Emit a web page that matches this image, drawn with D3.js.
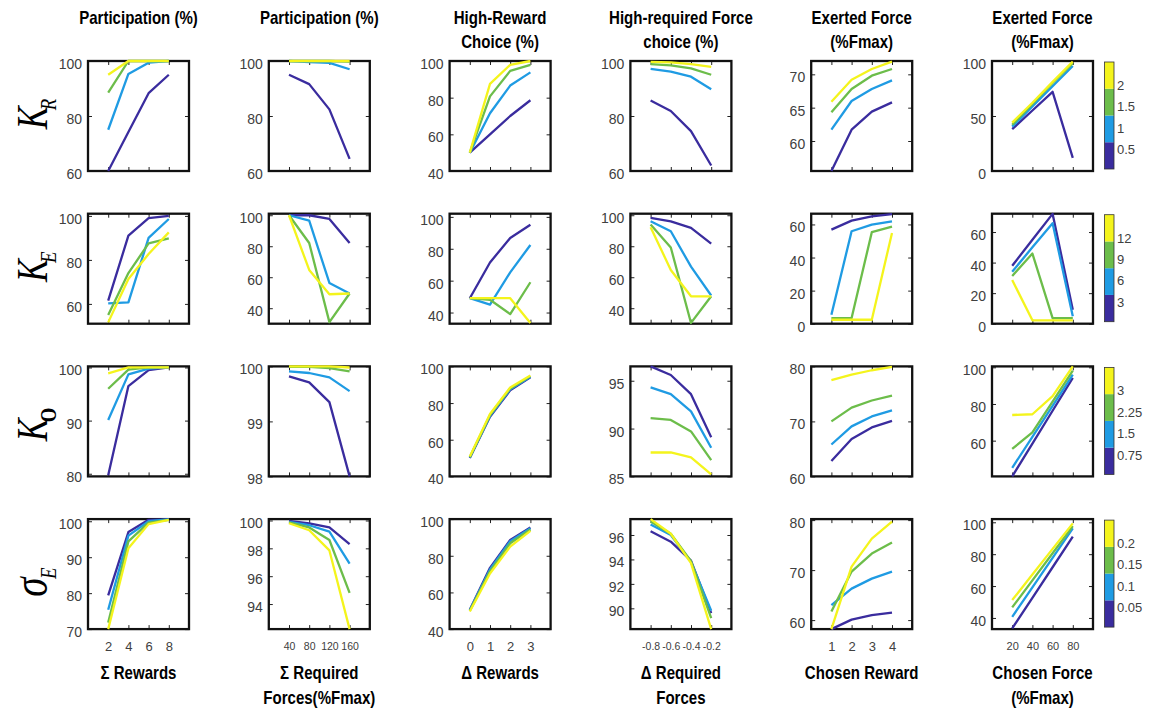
<!DOCTYPE html>
<html>
<head>
<meta charset="utf-8">
<script src="https://cdn.jsdelivr.net/npm/d3@7"></script>
<style>
  body { margin: 0; background: #fff; }
  svg { display: block; }
</style>
</head>
<body>
<svg id="chart" width="1152" height="708"></svg>
<script>
// ---- data ----
const xTicks = [[2, 4, 6, 8], [40, 80, 120, 160], [0, 1, 2, 3], [-0.8, -0.6, -0.4, -0.2], [1, 2, 3, 4], [20, 40, 60, 80]];
const xDomains = [[0, 10], [0, 200], [-1, 4], [-1, 0], [0, 5], [0, 100]];

const topTitles = [["Participation (%)"], ["Participation (%)"], ["High-Reward", "Choice (%)"],
  ["High-required Force", "choice (%)"], ["Exerted Force", "(%Fmax)"], ["Exerted Force", "(%Fmax)"]];
const bottomTitles = [["Σ Rewards"], ["Σ Required", "Forces(%Fmax)"], ["Δ Rewards"],
  ["Δ Required", "Forces"], ["Chosen Reward"], ["Chosen Force", "(%Fmax)"]];

const rowNames = [["K", "R"], ["K", "E"], ["K", "O"], ["σ", "E"]];
const legendTicks = [[0.5, 1, 1.5, 2], [3, 6, 9, 12], [0.75, 1.5, 2.25, 3], [0.05, 0.1, 0.15, 0.2]];

const yTicks = [
  [[60, 80, 100], [60, 80, 100], [40, 60, 80, 100], [60, 80, 100], [60, 65, 70], [0, 50, 100]],
  [[60, 80, 100], [40, 60, 80, 100], [40, 60, 80, 100], [40, 60, 80, 100], [0, 20, 40, 60], [0, 20, 40, 60]],
  [[80, 90, 100], [98, 99, 100], [40, 60, 80, 100], [85, 90, 95], [60, 70, 80], [60, 80, 100]],
  [[70, 80, 90, 100], [94, 96, 98, 100], [40, 60, 80, 100], [90, 92, 94, 96], [60, 70, 80], [40, 60, 80, 100]]
];
const yDomains = [
  [[60, 100], [60, 100], [40, 100], [60, 100], [55.5, 72], [0, 100]],
  [[51, 101], [30, 101], [33, 102], [30, 101], [0, 66.5], [0, 72]],
  [[79.5, 100.2], [98, 100], [40, 100], [85, 96.5], [60, 80], [40.5, 100.5]],
  [[70, 100.6], [92.2, 100.1], [40, 100], [88.3, 97.3], [58.2, 80.2], [33, 102]]
];

// each panel: 4 series, from lowest to highest parameter value
const kR = [
  [[60, 74.2, 88.3, 95], [75, 95.3, 99.4, 100], [88.5, 100, 100, 100], [95, 100, 100, 100]],
  [[95, 91.6, 82.4, 64.4], [100, 99.6, 99.3, 97], [100, 100, 100, 99.8], [100, 100, 100, 100]],
  [[50, 60, 70, 78.6], [50, 71.5, 86.6, 93.8], [50, 80.7, 94.6, 97.9], [50, 87.5, 97.9, 100]],
  [[85.6, 81.8, 74.5, 62], [97.1, 96.1, 94.3, 89.7], [98.9, 98.4, 97.3, 95], [99.7, 99.5, 98.9, 97.9]],
  [[55.5, 61.7, 64.4, 65.8], [61.7, 66, 67.8, 69.1], [64.3, 67.8, 69.8, 70.8], [65.9, 69.2, 70.8, 71.9]],
  [[38, 55, 72, 12], [40.3, 58.7, 77, 95.5], [42, 61, 80, 98], [44, 62, 81, 99.4]]
];
const kE = [
  [[61.5, 91, 99, 100], [60.2, 60.7, 90, 98.6], [55, 74, 87.5, 89.8], [51.6, 71.3, 82.7, 92.5]],
  [[100, 100, 97.6, 82.1], [100, 96.5, 56.3, 49.5], [100, 82.1, 31, 49.5], [100, 64.7, 49, 49.5]],
  [[49, 71.4, 86.8, 95.1], [49, 45, 65.2, 82.4], [49, 48, 39, 59], [49, 49, 49, 33.5]],
  [[98.3, 96.1, 91.9, 81.7], [96.1, 89.7, 66.8, 48.2], [94, 79.2, 30.5, 47.7], [92.3, 64.7, 47.7, 47.7]],
  [[56.9, 62.3, 64.9, 66.3], [5.4, 55.9, 59.9, 61.9], [3.4, 3.4, 55.3, 58.7], [2.4, 2.4, 2.4, 54.9]],
  [[37.9, 55, 71.9, 9.1], [34, 50, 65.8, 4.8], [31.2, 45.9, 3.7, 3.7], [28.6, 2.2, 2.2, 2.2]]
];
const kO = [
  [[79.7, 96.5, 99.5, 100], [90.1, 98.7, 99.8, 100], [96, 99.6, 100, 100], [98.9, 100, 100, 100]],
  [[99.82, 99.71, 99.35, 98], [99.91, 99.88, 99.8, 99.55], [99.99, 99.99, 99.97, 99.91], [100, 100, 100, 99.98]],
  [[50, 72.5, 87, 94], [50.3, 73, 87.5, 94.3], [50.5, 73.5, 88, 94.7], [50.8, 74, 88.5, 95]],
  [[96.5, 95.6, 93.6, 89.1], [94.3, 93.6, 91.8, 88], [91.1, 90.9, 89.7, 86.7], [87.5, 87.5, 87, 85.2]],
  [[62.8, 66.8, 68.9, 70.1], [65.8, 69.1, 70.9, 72], [70, 72.5, 73.8, 74.7], [77.5, 78.5, 79.3, 79.9]],
  [[40.5, 58.4, 76.3, 94.2], [45.2, 62, 79, 96], [55.5, 64.5, 81.3, 98.2], [74, 74.4, 84.3, 100.5]]
];
const sigmaE = [
  [[79.4, 97, 100.4, 100.5], [75.4, 96, 100, 100.5], [71.8, 94.4, 99.6, 100.4], [70, 92.5, 99.2, 100.4]],
  [[99.98, 99.8, 99.5, 98.3], [99.9, 99.66, 99.2, 96.9], [99.86, 99.5, 98.6, 94.8], [99.8, 99.3, 97.85, 92.2]],
  [[50.5, 73.4, 88.6, 95.4], [50.3, 72.5, 88, 95], [50, 71.5, 86.8, 94.3], [49.6, 70.3, 85, 93.6]],
  [[96.3, 95.45, 93.9, 89.6], [96.85, 96, 93.8, 89.8], [97.1, 96.1, 93.85, 89.2], [97.3, 96.1, 93.7, 88.3]],
  [[58.2, 60.1, 61, 61.5], [63, 66.3, 68.3, 69.7], [61.7, 69.7, 73.3, 75.5], [58.2, 70.7, 76.3, 79.7]],
  [[33.4, 52.6, 71.8, 91], [40.7, 59.2, 77.7, 96.2], [46.6, 63.6, 80.6, 97.6], [51.2, 67.2, 83.3, 99.3]]
];
const rows = [kR, kE, kO, sigmaE];

// parula-like discrete colours
const colors = ["#3a2c9e", "#1f9be3", "#6cbd4a", "#f4f41c"];

// ---- layout ----
const panelW = 101, panelH = 110;
const colLeft = c => 88 + c * 180.8;
const rowTop = r => 61 + r * 152.7;
const sans = "'Liberation Sans', Arial, sans-serif";
const tickFont = [13, 10.5, 13, 10.5, 13, 11];

const svg = d3.select("#chart");

rows.forEach((rowData, r) => {
  rowData.forEach((panel, c) => {
    const x0 = colLeft(c), y0 = rowTop(r);
    const x = d3.scaleLinear().domain(xDomains[c]).range([x0, x0 + panelW]);
    const y = d3.scaleLinear().domain(yDomains[r][c]).range([y0 + panelH, y0]);
    const g = svg.append("g");

    // y axis (left, with labels)
    const ya = g.append("g")
      .attr("transform", `translate(${x0},0)`)
      .call(d3.axisLeft(y).tickValues(yTicks[r][c]).tickSizeInner(-4).tickSizeOuter(0)
        .tickPadding(6).tickFormat(d => String(d)));
    ya.select(".domain").remove();
    ya.selectAll("text").attr("y", 3).style("font-family", sans).style("font-size", "14px").attr("fill", "#404040");

    // right, top, bottom ticks
    const yr = g.append("g").attr("transform", `translate(${x0 + panelW},0)`)
      .call(d3.axisRight(y).tickValues(yTicks[r][c]).tickSizeInner(-4).tickSizeOuter(0).tickFormat(""));
    yr.select(".domain").remove();
    const xt = g.append("g").attr("transform", `translate(0,${y0})`)
      .call(d3.axisTop(x).tickValues(xTicks[c]).tickSizeInner(-4).tickSizeOuter(0).tickFormat(""));
    xt.select(".domain").remove();
    const xb = g.append("g").attr("transform", `translate(0,${y0 + panelH})`)
      .call(d3.axisBottom(x).tickValues(xTicks[c]).tickSizeInner(-4).tickSizeOuter(0).tickPadding(13)
        .tickFormat(r === rows.length - 1 ? (d => String(d)) : ""));
    xb.select(".domain").remove();
    xb.selectAll("text").style("font-family", sans).style("font-size", tickFont[c] + "px").attr("fill", "#404040");

    g.selectAll(".tick line").attr("stroke", "#222");

    // frame
    g.append("rect")
      .attr("x", x0).attr("y", y0).attr("width", panelW).attr("height", panelH)
      .attr("fill", "none").attr("stroke", "#111").attr("stroke-width", 2.3);

    // series
    const line = d3.line()
      .x((d, i) => x(xTicks[c][i]))
      .y(d => y(d));
    g.selectAll("path.series")
      .data(panel)
      .enter()
      .append("path")
      .attr("class", "series")
      .attr("d", line)
      .attr("fill", "none")
      .attr("stroke", (d, i) => colors[i])
      .attr("stroke-width", 2.3)
      .attr("stroke-linejoin", "round");
  });

  // colorbar
  const y0 = rowTop(r);
  const step = legendTicks[r][0];
  const cb = d3.scaleLinear().domain([0, 5 * step]).range([y0 + 108, y0 + 1]);
  const cbX = 1104.5, cbW = 9.5;
  const cbG = svg.append("g");
  cbG.selectAll("rect.band")
    .data(colors)
    .enter()
    .append("rect")
    .attr("class", "band")
    .attr("x", cbX)
    .attr("y", (d, i) => cb((i + 1) * 1.25 * step))
    .attr("width", cbW)
    .attr("height", (d, i) => cb(i * 1.25 * step) - cb((i + 1) * 1.25 * step))
    .attr("fill", d => d);
  cbG.append("rect")
    .attr("x", cbX).attr("y", cb(5 * step)).attr("width", cbW).attr("height", cb(0) - cb(5 * step))
    .attr("fill", "none").attr("stroke", "#333").attr("stroke-width", 0.8);
  cbG.selectAll("text")
    .data(legendTicks[r])
    .enter()
    .append("text")
    .attr("x", cbX + cbW + 3)
    .attr("y", d => cb(d) + 2)
    .attr("dy", "0.35em")
    .style("font-family", sans)
    .style("font-size", "13px")
    .attr("fill", "#404040")
    .text(d => String(d));

  // row label, squeezed along its direction like the original
  const lab = svg.append("text")
    .attr("transform", `translate(47,${y0 + panelH / 2 + [-2, -2, 3, 8][r]}) rotate(-90) scale(0.78,1)`)
    .attr("text-anchor", "middle")
    .style("font-family", "'Liberation Serif', 'Times New Roman', serif");
  lab.append("tspan")
    .style("font-style", "italic")
    .style("font-size", r === 3 ? "50px" : "44px")
    .text(rowNames[r][0]);
  lab.append("tspan")
    .attr("dy", "9")
    .attr("dx", r === 3 ? "-2" : "-5")
    .style("font-style", r === 2 ? "normal" : "italic")
    .style("font-weight", r === 2 ? "bold" : "normal")
    .style("font-size", "24px")
    .text(rowNames[r][1]);
});

// column titles (narrow bold, as in the original)
function titleBlock(lines, c, baseY, gap) {
  const cx = colLeft(c) + panelW / 2;
  const t = svg.append("text")
    .attr("transform", `translate(${cx},${baseY}) scale(0.86,1)`)
    .attr("text-anchor", "middle")
    .style("font-family", sans)
    .style("font-weight", "bold")
    .style("font-size", "17.5px");
  lines.forEach((s, i) => t.append("tspan").attr("x", 0).attr("y", i * gap).text(s));
}
topTitles.forEach((lines, c) => titleBlock(lines, c, 24, 24));
bottomTitles.forEach((lines, c) => titleBlock(lines, c, 679, 25));
</script>
</body>
</html>
